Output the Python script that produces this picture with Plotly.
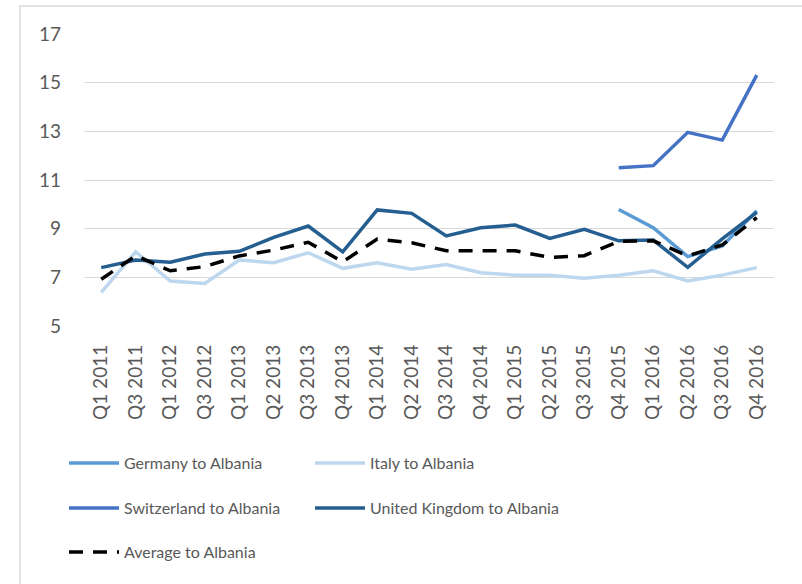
import plotly.graph_objects as go

quarters = ["Q1 2011", "Q3 2011", "Q1 2012", "Q3 2012", "Q1 2013", "Q2 2013", "Q3 2013",
            "Q4 2013", "Q1 2014", "Q2 2014", "Q3 2014", "Q4 2014", "Q1 2015", "Q2 2015",
            "Q3 2015", "Q4 2015", "Q1 2016", "Q2 2016", "Q3 2016", "Q4 2016"]

germany = [None] * 15 + [9.79, 9.04, 7.85, 8.29, 9.74]
italy = [6.38, 8.05, 6.85, 6.75, 7.71, 7.60, 8.01, 7.37, 7.60, 7.33, 7.53, 7.19,
         7.09, 7.09, 6.96, 7.09, 7.27, 6.85, 7.09, 7.40]
switzerland = [None] * 15 + [11.50, 11.59, 12.96, 12.64, 15.31]
uk = [7.40, 7.71, 7.62, 7.96, 8.07, 8.64, 9.11, 8.05, 9.77, 9.63, 8.70, 9.04,
      9.15, 8.60, 8.97, 8.50, 8.53, 7.41, 8.58, 9.67]
average = [6.92, 7.89, 7.27, 7.44, 7.88, 8.12, 8.44, 7.64, 8.57, 8.42, 8.09, 8.08,
           8.09, 7.82, 7.89, 8.48, 8.50, 7.88, 8.33, 9.45]

y_ticks = [5, 7, 9, 11, 13, 15, 17]

legend_font = dict(family="Lato, sans-serif", size=16, color="#595959")
tick_font = dict(family="Lato, sans-serif", size=19, color="#595959")

L, R, T, B = 84, 28, 34, 258
W, H = 802, 584
pw, ph = W - L - R, H - T - B


def px_y(py):
    return (H - B - py) / ph


def px_x(px):
    return (px - L) / pw


# (name, values, colour, dash, legend id, legend text-left px, legend row centre px)
series = [
    ("Germany to Albania", germany, "#5B9BD5", "solid", "legend", 124, 463),
    ("Italy to Albania", italy, "#BDD7EE", "solid", "legend2", 370, 463),
    ("Switzerland to Albania", switzerland, "#4472C4", "solid", "legend3", 124, 508),
    ("United Kingdom to Albania", uk, "#255E91", "solid", "legend4", 370, 508),
    ("Average to Albania", average, "#000000", "14px,10px", "legend5", 124, 552),
]

ITEMW = 50
fig = go.Figure()
legends = {}
for name, vals, color, dash, leg, tx, ty in series:
    fig.add_trace(go.Scatter(x=quarters, y=vals, name=name, mode="lines",
                             line=dict(color=color, width=3.5, dash=dash),
                             connectgaps=False, legend=leg))
    legends[leg] = dict(orientation="h", xanchor="left", yanchor="middle",
                        x=px_x(tx - ITEMW - 10), y=px_y(ty), font=legend_font,
                        itemwidth=ITEMW, bgcolor="rgba(0,0,0,0)", itemclick=False)

fig.update_layout(
    width=W, height=H,
    margin=dict(l=L, r=R, t=T, b=B, autoexpand=False),
    paper_bgcolor="white", plot_bgcolor="white",
    showlegend=True,
    xaxis=dict(type="category", range=[-0.5, len(quarters) - 0.5], tickangle=-90,
               tickfont=tick_font, showgrid=False, showline=False, zeroline=False,
               ticks="", ticklabelstandoff=14),
    yaxis=dict(range=[5, 17], tickvals=y_ticks, tickfont=tick_font, showgrid=True,
               gridcolor="#D9D9D9", gridwidth=1, zeroline=False, showline=False,
               ticks="", ticklabelstandoff=22),
    shapes=[dict(type="rect", xref="paper", yref="paper",
                 x0=px_x(20), x1=px_x(830), y0=px_y(610), y1=px_y(6),
                 line=dict(color="#D9D9D9", width=1.5), fillcolor="rgba(0,0,0,0)",
                 layer="below")],
    **legends,
)

fig.write_html("out.html", config={"displayModeBar": False},
               post_script="document.body.style.margin='0';document.body.style.overflow='hidden';")
